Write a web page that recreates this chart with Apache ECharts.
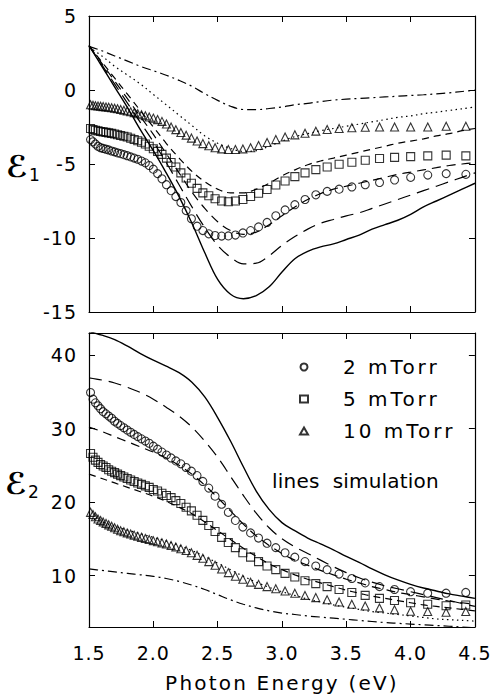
<!DOCTYPE html>
<html><head><meta charset="utf-8">
<script src="https://cdn.jsdelivr.net/npm/echarts@6/dist/echarts.min.js"></script>
<style>html,body{margin:0;padding:0;background:#fff}#c{width:493px;height:700px}#c text{letter-spacing:1px}</style>
</head><body><div id="c"></div>
<script>
// Photon energies of the measured points (eV)
const energy = [1.512,1.531,1.550,1.570,1.590,1.610,1.632,1.653,1.676,1.699,1.722,1.746,1.771,1.797,1.824,1.851,1.879,1.908,1.938,1.968,2.000,2.033,2.067,2.102,2.138,2.175,2.214,2.255,2.296,2.340,2.385,2.431,2.480,2.531,2.583,2.638,2.696,2.756,2.818,2.884,2.952,3.024,3.100,3.179,3.263,3.351,3.444,3.543,3.647,3.758,3.875,4.000,4.133,4.276,4.429];

// epsilon_1 measured
const e1_2mTorr = [-3.35,-3.5,-3.65,-3.8,-3.9,-3.95,-4.0,-4.05,-4.12,-4.18,-4.25,-4.3,-4.37,-4.44,-4.52,-4.6,-4.68,-4.8,-4.92,-5.1,-5.35,-5.65,-6.0,-6.4,-6.8,-7.2,-7.6,-8.15,-8.7,-9.2,-9.5,-9.72,-9.83,-9.87,-9.86,-9.8,-9.66,-9.5,-9.25,-8.95,-8.5,-8.1,-7.75,-7.4,-7.08,-6.85,-6.7,-6.55,-6.4,-6.25,-6.08,-5.9,-5.75,-5.65,-5.7];
const e1_5mTorr = [-2.6,-2.68,-2.72,-2.76,-2.8,-2.83,-2.86,-2.9,-2.93,-2.97,-3.02,-3.07,-3.12,-3.18,-3.26,-3.34,-3.43,-3.53,-3.65,-3.8,-3.97,-4.15,-4.35,-4.6,-4.9,-5.2,-5.6,-5.95,-6.3,-6.65,-6.95,-7.15,-7.35,-7.5,-7.55,-7.5,-7.4,-7.2,-6.98,-6.72,-6.42,-6.15,-5.85,-5.6,-5.38,-5.2,-5.02,-4.88,-4.75,-4.63,-4.55,-4.5,-4.45,-4.4,-4.45];
const e1_10mTorr = [-1.0,-1.03,-1.06,-1.08,-1.1,-1.12,-1.15,-1.17,-1.2,-1.23,-1.27,-1.32,-1.37,-1.42,-1.47,-1.53,-1.6,-1.67,-1.74,-1.82,-1.9,-2.0,-2.12,-2.3,-2.5,-2.68,-2.87,-3.05,-3.25,-3.45,-3.62,-3.77,-3.9,-3.98,-4.02,-4.02,-3.98,-3.9,-3.75,-3.55,-3.35,-3.17,-3.03,-2.92,-2.78,-2.67,-2.6,-2.55,-2.52,-2.5,-2.5,-2.5,-2.5,-2.45,-2.45];

// epsilon_2 measured
const e2_2mTorr = [34.9,34.0,33.5,33.1,32.7,32.3,32.0,31.7,31.4,31.0,30.7,30.4,30.1,29.8,29.5,29.2,28.9,28.6,28.3,28.0,27.6,27.2,26.8,26.4,26.0,25.6,25.2,24.7,24.2,23.6,22.8,21.9,20.8,19.7,18.6,17.5,16.6,15.8,15.1,14.4,13.8,13.1,12.5,11.9,11.3,10.8,10.2,9.6,9.0,8.5,8.1,7.8,7.6,7.6,7.7];
const e2_5mTorr = [26.6,26.1,25.7,25.4,25.1,24.9,24.7,24.4,24.2,24.0,23.8,23.6,23.4,23.2,23.0,22.8,22.6,22.4,22.2,22.0,21.7,21.5,21.2,20.9,20.6,20.2,19.8,19.3,18.8,18.2,17.5,16.8,16.0,15.2,14.5,13.8,13.1,12.5,11.9,11.3,10.8,10.3,9.8,9.3,8.9,8.5,8.1,7.7,7.3,6.9,6.6,6.3,6.1,5.9,6.0];
const e2_10mTorr = [18.6,18.3,18.0,17.7,17.5,17.3,17.1,16.9,16.7,16.5,16.3,16.1,15.95,15.8,15.65,15.5,15.35,15.2,15.05,14.9,14.75,14.6,14.45,14.3,14.1,13.9,13.65,13.4,13.1,12.75,12.35,11.9,11.4,10.9,10.4,9.9,9.5,9.1,8.8,8.5,8.2,7.9,7.6,7.3,7.0,6.7,6.4,6.1,5.85,5.6,5.35,5.15,5.1,5.0,5.1];

// simulation curves
const simEnergy = [1.5,1.6,1.7,1.8,1.9,2.0,2.1,2.2,2.3,2.4,2.5,2.6,2.7,2.8,2.9,3.0,3.1,3.2,3.3,3.4,3.5,3.6,3.7,3.8,3.9,4.0,4.1,4.2,4.3,4.4,4.5];
const e1SimSolid   = [3.0,1.6,0.2,-1.2,-2.7,-4.1,-5.6,-7.2,-9.0,-11.0,-12.8,-13.8,-14.1,-13.9,-13.3,-12.3,-11.4,-10.9,-10.6,-10.4,-10.1,-9.8,-9.4,-9.1,-8.8,-8.4,-7.9,-7.5,-7.1,-6.7,-6.3];
const e1SimLongDash= [3.0,1.7,0.4,-0.9,-2.2,-3.5,-4.9,-6.4,-7.9,-9.3,-10.5,-11.3,-11.75,-11.7,-11.2,-10.5,-9.9,-9.4,-9.0,-8.75,-8.5,-8.3,-8.0,-7.7,-7.4,-7.1,-6.8,-6.5,-6.2,-5.9,-5.6];
const e1SimDashA   = [3.0,1.8,0.6,-0.6,-1.8,-3.0,-4.3,-5.6,-6.9,-8.0,-8.9,-9.5,-9.75,-9.6,-9.1,-8.5,-7.9,-7.4,-7.0,-6.7,-6.5,-6.3,-6.1,-5.9,-5.7,-5.55,-5.4,-5.25,-5.1,-5.0,-4.9];
const e1SimDashB   = [3.0,1.9,0.8,-0.3,-1.4,-2.5,-3.6,-4.6,-5.5,-6.2,-6.7,-6.95,-6.95,-6.7,-6.3,-5.8,-5.4,-5.05,-4.8,-4.6,-4.4,-4.2,-4.0,-3.8,-3.6,-3.45,-3.3,-3.1,-2.95,-2.75,-2.6];
const e1SimDot     = [2.9,2.3,1.6,1.0,0.4,-0.3,-1.0,-1.7,-2.4,-3.1,-3.6,-3.95,-4.15,-4.1,-3.8,-3.45,-3.15,-2.95,-2.75,-2.6,-2.45,-2.3,-2.15,-2.0,-1.85,-1.75,-1.6,-1.5,-1.38,-1.27,-1.15];
const e1SimDashDot = [2.95,2.65,2.3,1.95,1.6,1.3,1.0,0.65,0.25,-0.25,-0.7,-1.1,-1.32,-1.33,-1.25,-1.15,-1.0,-0.9,-0.78,-0.68,-0.62,-0.57,-0.52,-0.47,-0.42,-0.37,-0.32,-0.26,-0.19,-0.1,0.0];

const e2SimSolid   = [43.2,42.7,42.1,41.2,40.2,39.3,38.5,37.6,36.3,34.3,31.5,28.3,24.8,21.5,19.0,17.2,16.1,15.1,14.3,13.5,12.6,11.8,10.9,10.1,9.4,8.8,8.3,7.9,7.5,7.2,6.9];
const e2SimLongDash= [36.9,36.6,36.2,35.6,34.9,34.0,32.9,31.7,30.2,28.3,26.1,23.5,20.9,18.5,16.5,15.0,13.9,13.0,12.1,11.2,10.4,9.7,9.1,8.6,8.2,7.8,7.4,7.0,6.6,6.2,5.8];
const e2SimDashA   = [30.2,29.6,28.9,28.2,27.5,26.8,26.0,25.0,23.8,22.3,20.6,18.8,17.0,15.4,14.1,13.0,12.1,11.4,10.7,10.1,9.5,9.0,8.5,8.1,7.7,7.4,7.1,6.8,6.5,6.3,6.1];
const e2SimDashB   = [23.8,23.2,22.6,22.0,21.4,20.8,20.1,19.3,18.4,17.3,16.1,14.9,13.7,12.6,11.6,10.8,10.1,9.5,9.0,8.5,8.0,7.6,7.2,6.9,6.6,6.3,6.0,5.8,5.6,5.4,5.2];
const e2SimDot     = [17.9,17.3,16.7,16.2,15.7,15.2,14.7,14.1,13.4,12.6,11.7,10.8,9.9,9.1,8.4,7.8,7.3,6.8,6.4,6.0,5.7,5.4,5.1,4.9,4.7,4.5,4.3,4.1,4.0,3.9,3.8];
const e2SimDashDot = [10.9,10.7,10.5,10.3,10.1,9.9,9.6,9.2,8.7,8.1,7.4,6.7,6.1,5.6,5.2,4.9,4.7,4.5,4.35,4.2,4.05,3.9,3.75,3.6,3.5,3.4,3.3,3.2,3.1,3.0,2.9];

const e1Ticks = [-15,-10,-5,0,5];
const e2Ticks = [10,20,30,40];
const seriesNames = ['2 mTorr','5 mTorr','10 mTorr'];
const xTitle = 'Photon Energy (eV)';
const noteText = 'lines\u00a0 simulation';

const FONT = '"DejaVu Sans", "Liberation Sans", Arial, sans-serif';
const INK = '#000';
const pair = (xs, ys) => xs.map((x, i) => [x, ys[i]]);

const grids = [
  {left: 89, right: 18, top: 16, height: 296},
  {left: 89, right: 18, top: 333, height: 294}
];

function xAxisPair(gi, showLabels) {
  const common = {gridIndex: gi, type: 'value', min: 1.5, max: 4.5, interval: 0.5,
    axisLine: {show: true, onZero: false, lineStyle: {color: INK, width: 1.2}},
    axisTick: {show: true, inside: true, length: 6, lineStyle: {color: INK, width: 1}},
    splitLine: {show: false}};
  return [
    Object.assign({}, common, {position: 'bottom',
     axisLabel: {show: showLabels, color: INK, fontFamily: FONT, fontSize: 19, margin: 16,
                 formatter: v => v.toFixed(1)},
     name: showLabels ? xTitle : '', nameLocation: 'middle', nameGap: 46,
     nameTextStyle: {color: INK, fontFamily: FONT, fontSize: 20}}),
    Object.assign({}, common, {position: 'top', axisLabel: {show: false}})
  ];
}

function yAxisPair(gi, min, max, ticks) {
  const common = {gridIndex: gi, type: 'value', min: min, max: max,
    axisLine: {show: true, onZero: false, lineStyle: {color: INK, width: 1.2}},
    splitLine: {show: false}};
  return [
    Object.assign({}, common, {position: 'left',
      axisTick: {show: true, inside: true, length: 6, customValues: ticks, lineStyle: {color: INK, width: 1}},
      axisLabel: {show: true, customValues: ticks, color: INK, fontFamily: FONT, fontSize: 19, margin: 12}}),
    Object.assign({}, common, {position: 'right',
      axisTick: {show: true, inside: true, length: 6, customValues: ticks, lineStyle: {color: INK, width: 1}},
      axisLabel: {show: false}})
  ];
}

const xAxes = [...xAxisPair(0, false), ...xAxisPair(1, true)];
const yAxes = [...yAxisPair(0, -15, 5, e1Ticks), ...yAxisPair(1, 3, 43, e2Ticks)];

const markerStyle = {color: 'rgba(255,255,255,0)', borderColor: INK, borderWidth: 1.1};
function scatter(name, xi, yi, xs, ys, symbol, size) {
  return {name: name, type: 'scatter', xAxisIndex: xi, yAxisIndex: yi, data: pair(xs, ys),
          symbol: symbol, symbolSize: size, itemStyle: markerStyle, z: 3};
}
function simLine(xi, yi, ys, dash, width) {
  return {type: 'line', xAxisIndex: xi, yAxisIndex: yi, data: pair(simEnergy, ys),
          showSymbol: false, smooth: 0.35, silent: true,
          lineStyle: {color: INK, width: width || 1.2, type: dash}, z: 2};
}

const DASH_LONG = [13, 7], DASH_MED = [9, 6], DASH_SHORT = [7, 5], DOT = [1.5, 3.5], DASHDOT = [9, 4, 2, 4];

const series = [
  simLine(0, 0, e1SimSolid, 'solid', 1.4),
  simLine(0, 0, e1SimLongDash, DASH_LONG),
  simLine(0, 0, e1SimDashA, DASH_MED),
  simLine(0, 0, e1SimDashB, DASH_SHORT),
  simLine(0, 0, e1SimDot, DOT),
  simLine(0, 0, e1SimDashDot, DASHDOT),
  scatter(seriesNames[0], 0, 0, energy, e1_2mTorr, 'circle', 8),
  scatter(seriesNames[1], 0, 0, energy, e1_5mTorr, 'rect', 8),
  scatter(seriesNames[2], 0, 0, energy, e1_10mTorr, 'triangle', 8),
  simLine(2, 2, e2SimSolid, 'solid', 1.4),
  simLine(2, 2, e2SimLongDash, DASH_LONG),
  simLine(2, 2, e2SimDashA, DASH_MED),
  simLine(2, 2, e2SimDashB, DASH_SHORT),
  simLine(2, 2, e2SimDot, DOT),
  simLine(2, 2, e2SimDashDot, DASHDOT),
  scatter(seriesNames[0], 2, 2, energy, e2_2mTorr, 'circle', 8),
  scatter(seriesNames[1], 2, 2, energy, e2_5mTorr, 'rect', 8),
  scatter(seriesNames[2], 2, 2, energy, e2_10mTorr, 'triangle', 8)
];

const epsRich = {e: {font: 'bold 30px "DejaVu Sans"', fill: INK}, s: {font: '17px "DejaVu Sans"', fill: INK, padding: [18, 0, 0, 1]}};

const chart = echarts.init(document.getElementById('c'), null, {renderer: 'svg'});
chart.setOption({
  backgroundColor: '#fff',
  animation: false,
  grid: grids,
  xAxis: xAxes,
  yAxis: yAxes,
  legend: {
    data: seriesNames, orient: 'vertical', left: 294, top: 352,
    itemWidth: 8, itemHeight: 7, itemGap: 12, selectedMode: false,
    formatter: name => '{g|}' + name,
    textStyle: {color: INK, fontFamily: FONT, fontSize: 20, rich: {g: {width: 30}}}
  },
  graphic: [
    {type: 'text', left: 272, top: 471, style: {text: noteText, fill: INK, font: '20px ' + FONT}},
    {type: 'text', left: 6, top: 151, style: {text: '{e|ℰ}{s|1}', rich: epsRich}},
    {type: 'text', left: 5, top: 468, style: {text: '{e|ℰ}{s|2}', rich: epsRich}}
  ],
  series: series
});

// tracking tweaks so the printed figure's wide lettering is matched
function track() {
  document.querySelectorAll('#c text').forEach(t => {
    const s = t.textContent;
    if (seriesNames.indexOf(s) >= 0) t.style.letterSpacing = '3px';
    else if (s === xTitle) t.style.letterSpacing = '2.2px';
    else if (s === noteText) t.style.letterSpacing = '0.2px';
  });
}
chart.on('finished', track);
track();
</script></body></html>
